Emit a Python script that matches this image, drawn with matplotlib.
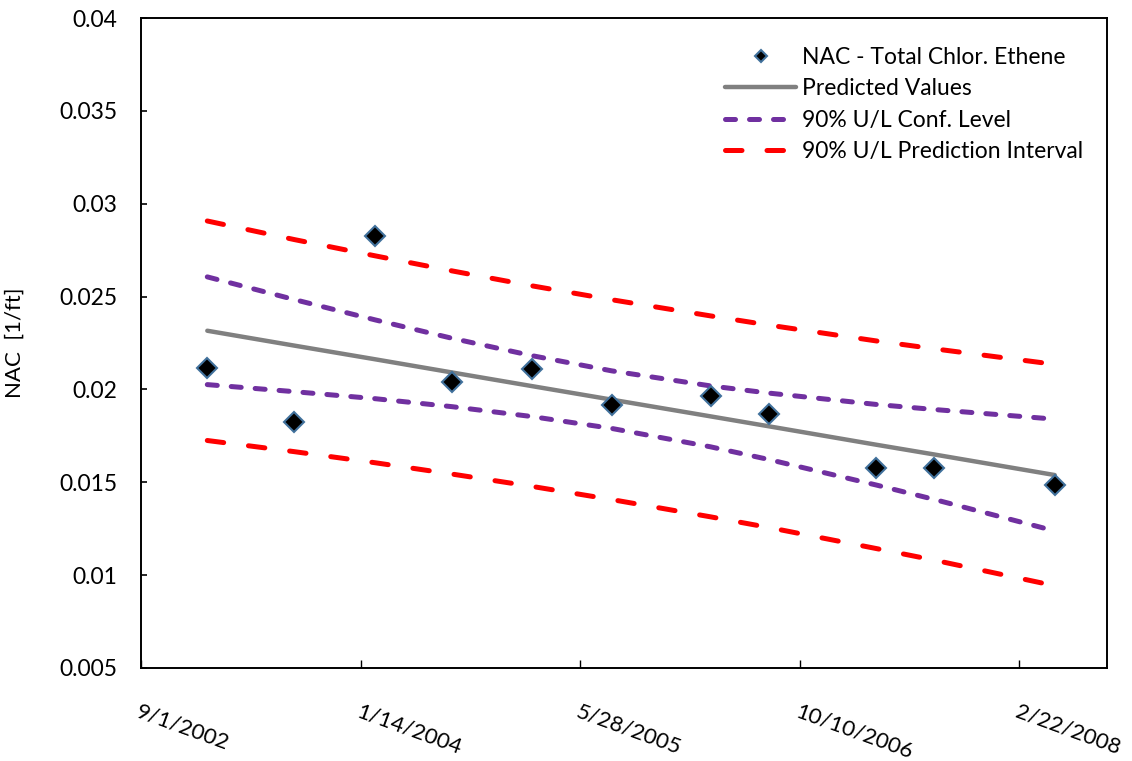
import matplotlib
matplotlib.use("Agg")
import matplotlib.pyplot as plt
import matplotlib.dates as mdates
from datetime import datetime

# sample dates and measured NAC
dates = ["1/30/2003", "8/16/2003", "2/17/2004", "8/10/2004", "2/7/2005", "8/8/2005",
         "3/21/2006", "8/2/2006", "4/3/2007", "8/12/2007", "5/13/2008"]
nac = [0.02117, 0.01826, 0.02828, 0.02038, 0.02108, 0.01918,
       0.01966, 0.01869, 0.01578, 0.01578, 0.01485]

# regression lines
predicted = [0.02316, 0.02236, 0.02162, 0.02091, 0.02018, 0.01945,
             0.01855, 0.01801, 0.01702, 0.01650, 0.01539]
conf_upper = [0.02606, 0.02484, 0.02374, 0.02275, 0.02182, 0.02100,
              0.02019, 0.01980, 0.01919, 0.01892, 0.01840]
conf_lower = [0.02026, 0.01988, 0.01950, 0.01907, 0.01854, 0.01790,
              0.01691, 0.01622, 0.01485, 0.01408, 0.01238]
pred_upper = [0.02907, 0.02807, 0.02719, 0.02638, 0.02558, 0.02483,
              0.02396, 0.02346, 0.02261, 0.02219, 0.02135]
pred_lower = [0.01725, 0.01665, 0.01605, 0.01544, 0.01478, 0.01407,
              0.01314, 0.01256, 0.01143, 0.01081, 0.00943]

xtick_labels = ["9/1/2002", "1/14/2004", "5/28/2005", "10/10/2006", "2/22/2008"]
x_end = "9/9/2008"


def to_date(s):
    return datetime.strptime(s, "%m/%d/%Y")


x = [to_date(d) for d in dates]

plt.rcParams["font.family"] = ["Lato", "DejaVu Sans"]
fs = 16.5

fig = plt.figure(figsize=(11.32, 7.61), dpi=100)
ax = fig.add_axes([141 / 1132, 1 - 668 / 761, 966 / 1132, 650 / 761])

ax.plot(x, nac, linestyle="none", marker="D", markersize=10,
        markerfacecolor="black", markeredgecolor="#41719C", markeredgewidth=1.5,
        label="NAC - Total Chlor. Ethene", zorder=5)
ax.plot(x, predicted, color="#808080", linewidth=3.2, solid_capstyle="round",
        label="Predicted Values")
ax.plot(x, conf_upper, color="#7030A0", linewidth=3.6, dashes=(2.0, 2.8),
        dash_capstyle="round", label="90% U/L Conf. Level")
ax.plot(x, conf_lower, color="#7030A0", linewidth=3.6, dashes=(2.0, 2.8),
        dash_capstyle="round")
ax.plot(x, pred_upper, color="#FF0000", linewidth=3.6, dashes=(3.3, 5.0),
        dash_capstyle="round", label="90% U/L Prediction Interval")
ax.plot(x, pred_lower, color="#FF0000", linewidth=3.6, dashes=(3.3, 5.0),
        dash_capstyle="round")

ax.set_xlim(to_date(xtick_labels[0]), to_date(x_end))
ax.set_ylim(0.005, 0.04)
ax.set_yticks([0.005, 0.01, 0.015, 0.02, 0.025, 0.03, 0.035, 0.04])
ax.set_yticklabels(["0.005", "0.01", "0.015", "0.02", "0.025", "0.03", "0.035", "0.04"])
ax.set_xticks([mdates.date2num(to_date(s)) for s in xtick_labels])
ax.set_xticklabels(xtick_labels)

for sp in ax.spines.values():
    sp.set_linewidth(1.4)
    sp.set_color("black")

ax.tick_params(axis="y", direction="in", length=4, width=1.2, pad=17, labelsize=fs)
ax.tick_params(axis="x", direction="in", length=6, width=1.0, pad=24, labelsize=fs - 0.5)
for lab in ax.get_xticklabels():
    lab.set_rotation(-20)
    lab.set_ha("left")
    lab.set_va("top")
    lab.set_rotation_mode("anchor")

ax.set_ylabel("NAC  [1/ft]", fontsize=fs - 0.5)
ax.yaxis.set_label_coords(-(141 - 25) / 966, 0.5)

leg = ax.legend(loc="upper left", bbox_to_anchor=((725 - 141) / 966, (668 - 47) / 650),
                frameon=False, fontsize=fs, borderpad=0, borderaxespad=0,
                handlelength=3.1, handletextpad=0.25, labelspacing=0.45,
                markerscale=0.6)

fig.savefig("out.png", dpi=100)
